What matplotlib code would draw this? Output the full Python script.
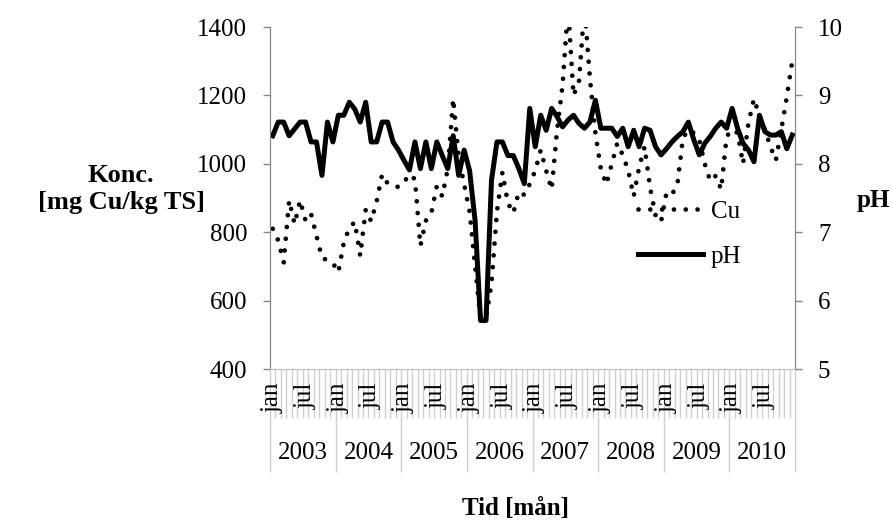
import matplotlib
matplotlib.use("Agg")
import matplotlib.pyplot as plt
import matplotlib.transforms as mtransforms
import numpy as np

plt.rcParams['font.family'] = 'Liberation Serif'
plt.rcParams['font.size'] = 18

# monthly values, jan 2003 - dec 2010
years = ['2003', '2004', '2005', '2006', '2007', '2008', '2009', '2010']
month_labels = {0: 'jan', 6: 'jul'}

cu = [810, 776, 712, 893, 824, 893, 834, 854, 790, 725, 718, 710,
      683, 770, 812, 830, 731, 866, 832, 890, 969, 943, 937, 932,
      946, 969, 955, 760, 834, 856, 935, 905, 985, 1190, 1020, 940,
      860, 700, 548, 548, 650, 860, 975, 885, 856, 918, 909, 941,
      980, 1040, 980, 925, 1100, 1230, 1460, 1200, 1240, 1460, 1250, 1090,
      985, 940, 1000, 1060, 1026, 980, 905, 990, 1050, 930, 850, 830,
      915, 910, 940, 1075, 1100, 1090, 1070, 1000, 950, 965, 925, 1080,
      1100, 1090, 1000, 1120, 1190, 1140, 1100, 1050, 1010, 1100, 1196, 1300]

ph = [8.41, 8.61, 8.61, 8.41, 8.51, 8.61, 8.61, 8.32, 8.32, 7.83, 8.61, 8.32,
      8.71, 8.71, 8.90, 8.80, 8.61, 8.90, 8.32, 8.32, 8.61, 8.61, 8.32, 8.20,
      8.05, 7.91, 8.32, 7.93, 8.32, 7.93, 8.32, 8.12, 7.93, 8.41, 7.83, 8.20,
      7.90, 7.17, 5.71, 5.71, 7.76, 8.32, 8.32, 8.12, 8.12, 7.93, 7.71, 8.81,
      8.25, 8.71, 8.49, 8.81, 8.69, 8.54, 8.64, 8.71, 8.59, 8.52, 8.61, 8.93,
      8.52, 8.52, 8.52, 8.40, 8.52, 8.25, 8.49, 8.25, 8.52, 8.49, 8.25, 8.13,
      8.22, 8.32, 8.40, 8.47, 8.61, 8.35, 8.13, 8.30, 8.40, 8.52, 8.61, 8.52,
      8.81, 8.52, 8.30, 8.20, 8.03, 8.71, 8.47, 8.42, 8.42, 8.47, 8.22, 8.42]

n = len(cu)
x = np.arange(n) + 0.5

W, H = 892, 521
fig = plt.figure(figsize=(W / 100, H / 100), dpi=100)
ax = fig.add_axes([270 / W, 1 - 369 / H, 525 / W, 342 / H])
ax2 = ax.twinx()

axis_grey = '#868686'
tick_grey = '#d0d0d0'

l_cu, = ax.plot(x, cu, color='black', lw=3.4, linestyle=(0, (0.001, 2.5)),
                dash_capstyle='round', label='Cu')
l_ph, = ax2.plot(x, ph, color='black', lw=3.6, label='pH')

ax.set_xlim(0, n)
ax.set_ylim(400, 1400)
ax.set_yticks(range(400, 1401, 200))
ax2.set_ylim(5, 10)
ax2.set_yticks(range(5, 11))

for a in (ax, ax2):
    a.spines['top'].set_visible(False)
    a.spines['left'].set_color(axis_grey)
    a.spines['right'].set_color(axis_grey)
    a.spines['bottom'].set_color('#bfbfbf')
    a.tick_params(axis='y', length=5, width=1, color=axis_grey, pad=11.5,
                  labelsize=18)

# month ticks and longer year separators below the axis
ax.set_xticks(np.arange(0, n + 1, 12))
ax.set_xticks(np.arange(0, n + 1), minor=True)
ax.tick_params(axis='x', which='major', length=74, width=1, color=tick_grey,
               labelbottom=False)
ax.tick_params(axis='x', which='minor', length=35, width=1, color=tick_grey)

trans = ax.get_xaxis_transform()
for y_i, year in enumerate(years):
    for m, lab in month_labels.items():
        pos = y_i * 12 + m + 0.5
        ax.text(pos, 0, lab, rotation=90, ha='center', va='top', fontsize=18,
                transform=mtransforms.offset_copy(trans, fig=fig, x=0, y=-10,
                                                  units='points'))
    ax.text(y_i * 12 + 6, 0, year, ha='center', va='baseline', fontsize=18,
            transform=mtransforms.offset_copy(trans, fig=fig, x=0, y=-65,
                                              units='points'))

# axis titles
fig.text(121 / W, 1 - 176 / H, 'Konc.', ha='center', va='center',
         fontweight='bold', fontsize=19)
fig.text(121 / W, 1 - 202 / H, '[mg Cu/kg TS]', ha='center', va='center',
         fontweight='bold', fontsize=19)
fig.text(873 / W, 1 - 200 / H, 'pH', ha='center', va='center',
         fontweight='bold', fontsize=18)
fig.text(515 / W, 1 - 508 / H, 'Tid [mån]', ha='center', va='center',
         fontweight='bold', fontsize=18)

fig.legend(handles=[l_cu, l_ph], loc='upper left',
           bbox_to_anchor=(638 / W, 1 - 200 / H), frameon=False,
           borderpad=0, borderaxespad=0, handlelength=2.6, handletextpad=0.3,
           labelspacing=0.92, fontsize=18)

fig.savefig('out.png', dpi=100)
